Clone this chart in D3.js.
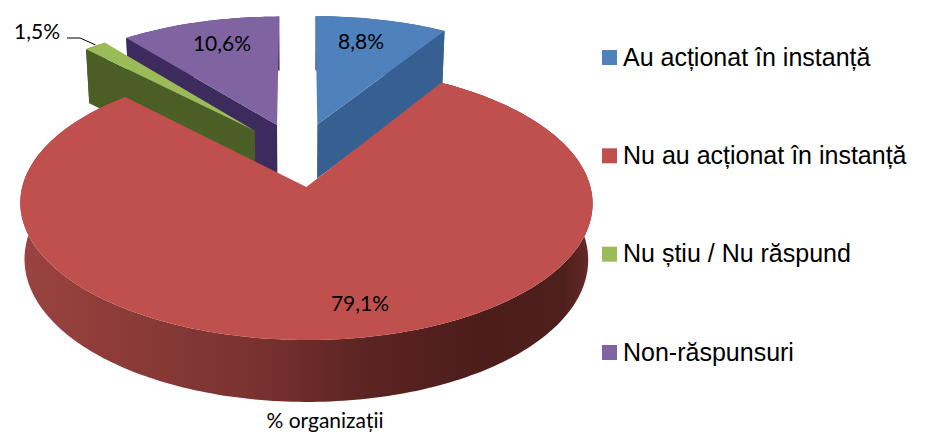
<!DOCTYPE html>
<html lang="ro">
<head>
<meta charset="utf-8">
<style>
html,body{margin:0;padding:0;background:#fff}
svg{display:block}
</style>
<script src="https://cdn.jsdelivr.net/npm/d3@7/dist/d3.min.js"></script>
</head>
<body>
<svg id="chart" width="927" height="434"></svg>
<script>
const categories = ["Au acționat în instanță","Nu au acționat în instanță","Nu știu / Nu răspund","Non-răspunsuri"];
const values = [8.8,79.1,1.5,10.6];
const topColors = ["#4f81bd","#c0504d","#9bbb59","#8064a2"];
const wallColors = ["#376092","#7a3230","#4a5e26","#3d2b5e"];
const axisTitle = "% organizații";

const svg = d3.select("#chart");

// 3D view of the pie: perspective onto the tilted pie plane
const view = {cx:299, cy:154.4, A:276, B:127.3, p:0.115, explode:0.25};
function project(u,v){
  const w = 1 + view.p*v;
  return {x:view.cx + view.A*u/w, y:view.cy - view.B*v/w, w};
}
function wallDepth(w){ return w>=1 ? 54 : 54 + (1-w)*55; }
function dropped(pt){
  return [view.cx + (pt.x-view.cx)*0.985, pt.y + wallDepth(pt.w)];
}

const arcs = d3.pie().sort(null).value(d=>d)(values);
const line = d3.line();

function slicePoint(a,r,theta){
  const mid = (a.startAngle+a.endAngle)/2;
  const u0 = view.explode*Math.sin(mid), v0 = view.explode*Math.cos(mid);
  return project(u0 + r*Math.sin(theta), v0 + r*Math.cos(theta));
}
function sampleAngles(a){
  const n = Math.max(4, Math.ceil((a.endAngle-a.startAngle)/0.02));
  return d3.range(n+1).map(i=>a.startAngle + (a.endAngle-a.startAngle)*i/n);
}
function topPath(a){
  const pts = [slicePoint(a,0,0)].concat(sampleAngles(a).map(t=>slicePoint(a,1,t)));
  return line(pts.map(p=>[p.x,p.y]))+"Z";
}
function outerWall(a){
  const pts = sampleAngles(a).map(t=>slicePoint(a,1,t));
  return line(pts.map(p=>[p.x,p.y]).concat(pts.slice().reverse().map(dropped)))+"Z";
}
function cutWall(a,theta){
  const c = slicePoint(a,0,0), e = slicePoint(a,1,theta);
  return line([[c.x,c.y],[e.x,e.y],dropped(e),dropped(c)])+"Z";
}

// gradient of the big slice's rim
const grad = svg.append("defs").append("linearGradient")
  .attr("id","rim").attr("gradientUnits","userSpaceOnUse")
  .attr("x1",24).attr("x2",593).attr("y1",0).attr("y2",0);
[[0,"#9a4340"],[0.2,"#8a3a37"],[0.4,"#7a3230"],[0.6,"#5c2422"],[0.8,"#4c1d1b"],[0.95,"#4f1f1d"],[1,"#6a2c29"]]
  .forEach(s=>grad.append("stop").attr("offset",s[0]).attr("stop-color",s[1]));

const g = svg.append("g");
// painter's order: back slices first, big slice last
const order = [0,3,2,1];
order.forEach(i=>{
  const a = arcs[i];
  if(i===1){
    g.append("path").attr("d",outerWall(a)).attr("fill","url(#rim)");
  } else {
    const side = i===0 ? a.endAngle : a.startAngle;
    g.append("path").attr("d",outerWall(a)).attr("fill",wallColors[i]);
    g.append("path").attr("d",cutWall(a, side)).attr("fill",wallColors[i]);
  }
  g.append("path").attr("d",topPath(a)).attr("fill",topColors[i]);
});

// data labels
const labelFont = "Lato, Carlito, sans-serif";
const labelAnchor = [[361,49],[360,311],[37,39],[222,51]];
const fmt = v => d3.format(".1f")(v).replace(".",",")+"%";
svg.append("g").selectAll("text").data(values).join("text")
  .attr("x",(d,i)=>labelAnchor[i][0]).attr("y",(d,i)=>labelAnchor[i][1])
  .attr("text-anchor","middle").attr("font-family",labelFont).attr("font-size",21)
  .attr("fill","#000").text(fmt);

// leader line of the smallest slice
const tip = slicePoint(arcs[2],1,(arcs[2].startAngle+arcs[2].endAngle)/2);
svg.append("path").attr("fill","none").attr("stroke","#000").attr("stroke-width",1)
  .attr("d",line([[67,38],[80,38],[tip.x,tip.y-1]]));

svg.append("text").attr("x",325).attr("y",428).attr("text-anchor","middle")
  .attr("font-family",labelFont).attr("font-size",21).attr("fill","#000").text(axisTitle);

// legend
const legendY = d3.scalePoint().domain(categories).range([57.5,352.5]);
const legend = svg.append("g").selectAll("g").data(categories).join("g")
  .attr("transform",d=>`translate(602,${legendY(d)})`);
legend.append("rect").attr("x",0).attr("y",-7.5).attr("width",15).attr("height",15)
  .attr("fill",(d,i)=>topColors[i]);
legend.append("text").attr("x",21).attr("y",8)
  .attr("font-family","'Liberation Sans', Arial, sans-serif").attr("font-size",25)
  .attr("fill","#000").text(d=>d);
</script>
</body>
</html>
